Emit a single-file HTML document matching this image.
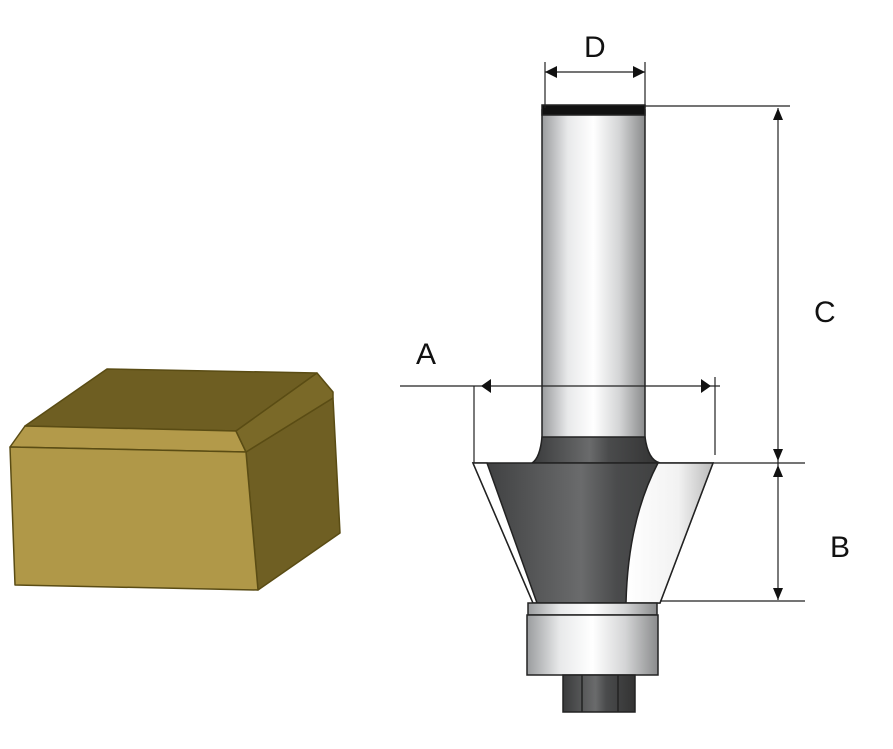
<!DOCTYPE html>
<html><head><style>body{margin:0;background:#fff}svg{display:block}</style></head><body>
<svg width="893" height="749" viewBox="0 0 893 749" xmlns="http://www.w3.org/2000/svg">
<defs>
<linearGradient id="sh" x1="0" x2="1"><stop offset="0" stop-color="#9a9c9e"/><stop offset=".25" stop-color="#e8e9ea"/><stop offset=".5" stop-color="#ffffff"/><stop offset=".75" stop-color="#d4d5d6"/><stop offset="1" stop-color="#8a8b8c"/></linearGradient>
<linearGradient id="dk" x1="0" x2="1"><stop offset="0" stop-color="#3a3b3c"/><stop offset=".45" stop-color="#6a6b6c"/><stop offset=".6" stop-color="#4a4b4c"/><stop offset="1" stop-color="#333"/></linearGradient>
<linearGradient id="wt" x1="0" x2="1"><stop offset="0" stop-color="#fff"/><stop offset=".6" stop-color="#f2f2f2"/><stop offset="1" stop-color="#bbb"/></linearGradient>
</defs>
<g stroke="#5a4c14" stroke-width="1.5" stroke-linejoin="round">
<polygon points="107,369 317,373 236,431 25,426" fill="#6e5e22"/>
<polygon points="25,426 236,431 246,452 10,447" fill="#b39a4a"/>
<polygon points="246,452 333,398 340,533 258,590" fill="#6f5f23"/>
<polygon points="236,431 317,373 333,392 333,398 246,452" fill="#7a6928"/>
<polygon points="10,447 246,452 258,590 15,585" fill="#b09848"/>
</g>
<g stroke="#222" stroke-width="1.5">
<rect x="542" y="110" width="103" height="330" fill="url(#sh)"/>
<rect x="542" y="105" width="103" height="10" fill="#111"/>
<path d="M542,437 L645,437 Q648,460 660,463 L532,463 Q540,458 542,437Z" fill="url(#dk)"/>
<polygon points="473,463 713,463 660,603 533,603" fill="url(#dk)"/>
<path d="M473,463 L487,463 L537,603 L533,603Z" fill="#fff"/>
<path d="M658,463 L713,463 L660,603 L626,603 Q628,520 658,463Z" fill="url(#wt)"/>
<rect x="528" y="603" width="129" height="12" fill="url(#sh)"/>
<rect x="527" y="615" width="131" height="60" fill="url(#sh)"/>
<rect x="563" y="675" width="72" height="37" fill="url(#dk)"/>
<line x1="582" y1="675" x2="582" y2="712"/><line x1="618" y1="675" x2="618" y2="712"/>
</g>
<g stroke="#222" stroke-width="1.2" fill="none">
<line x1="545" y1="62" x2="545" y2="108"/><line x1="645" y1="62" x2="645" y2="108"/>
<line x1="545" y1="72" x2="645" y2="72"/>
<line x1="645" y1="106" x2="790" y2="106"/>
<line x1="778" y1="108" x2="778" y2="600"/>
<line x1="713" y1="463" x2="805" y2="463"/>
<line x1="660" y1="601" x2="805" y2="601"/>
<line x1="400" y1="386" x2="720" y2="386"/>
<line x1="474" y1="386" x2="474" y2="463"/>
<line x1="715" y1="377" x2="715" y2="455"/>
</g>
<g fill="#111">
<polygon points="545,72 557,66 557,78"/><polygon points="645,72 633,66 633,78"/>
<polygon points="778,108 773,120 783,120"/><polygon points="778,461 773,449 783,449"/>
<polygon points="778,465 773,477 783,477"/><polygon points="778,600 773,588 783,588"/>
<polygon points="481,386 491,379 491,393"/><polygon points="711,386 701,379 701,393"/>
</g>
<g font-family="Liberation Sans, sans-serif" font-size="30" fill="#111">
<text x="584" y="57">D</text><text x="814" y="322">C</text><text x="830" y="557">B</text><text x="416" y="364">A</text>
</g>
</svg>
</body></html>
